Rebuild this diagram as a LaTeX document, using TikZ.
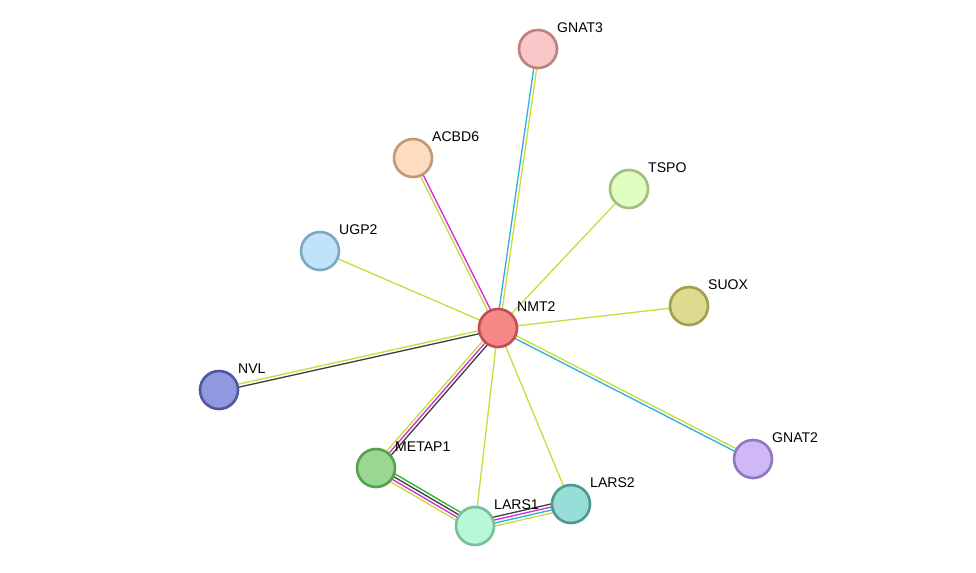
\documentclass[tikz,border=0pt]{standalone}
\usepackage{fontspec}
\setmainfont{Liberation Sans}
\usetikzlibrary{calc}
\definecolor{cyel}{HTML}{C8DC3C}
\definecolor{cmag}{HTML}{D030D0}
\definecolor{cdark}{HTML}{404040}
\definecolor{ccyan}{HTML}{30B0D8}
\definecolor{cgrn}{HTML}{30B030}
\tikzset{prot/.style={draw,circle,line width=1.5pt,minimum size=0.76cm,inner sep=0pt}}
\tikzset{lbl/.style={anchor=west,font=\fontsize{8}{9}\selectfont}}
\tikzset{edge/.style={line width=0.75pt}}
% one strand of a multi-coloured link, shifted sideways by #3
\newcommand{\strand}[4]{\draw [edge,#4] ($(#1)!#3!90:(#2)$) -- ($(#2)!#3!-90:(#1)$);}
\begin{document}
\begin{tikzpicture}[x=0.02cm,y=-0.02cm]
  \useasboundingbox (0,0) rectangle (976,572);

  % coordinates of the proteins
  \foreach \n/\x/\y in {GNAT3/538/49, ACBD6/413/158, TSPO/629/189, UGP2/320/251,
    SUOX/689/306, NMT2/498/328, NVL/219/390, GNAT2/753/459, METAP1/376/468,
    LARS2/571/504, LARS1/475/526}
  {
    \coordinate (c\n) at (\x,\y);
  }

  % edges
  \strand{cNMT2}{cGNAT3}{0.03cm}{ccyan}
  \strand{cNMT2}{cGNAT3}{-0.03cm}{cyel}
  \strand{cNMT2}{cACBD6}{-0.03cm}{cmag}
  \strand{cNMT2}{cACBD6}{0.03cm}{cyel}
  \strand{cNMT2}{cTSPO}{0cm}{cyel}
  \strand{cNMT2}{cUGP2}{0cm}{cyel}
  \strand{cNMT2}{cSUOX}{0cm}{cyel}
  \strand{cNMT2}{cNVL}{-0.03cm}{cyel}
  \strand{cNMT2}{cNVL}{0.03cm}{cdark}
  \strand{cNMT2}{cGNAT2}{-0.03cm}{ccyan}
  \strand{cNMT2}{cGNAT2}{0.03cm}{cyel}
  \strand{cNMT2}{cMETAP1}{0.06cm}{cdark}
  \strand{cNMT2}{cMETAP1}{0cm}{cmag}
  \strand{cNMT2}{cMETAP1}{-0.06cm}{cyel}
  \strand{cNMT2}{cLARS1}{0cm}{cyel}
  \strand{cNMT2}{cLARS2}{0cm}{cyel}
  \strand{cMETAP1}{cLARS1}{0.09cm}{cgrn}
  \strand{cMETAP1}{cLARS1}{0.03cm}{cdark}
  \strand{cMETAP1}{cLARS1}{-0.03cm}{cmag}
  \strand{cMETAP1}{cLARS1}{-0.09cm}{cyel}
  \strand{cLARS1}{cLARS2}{0.09cm}{cdark}
  \strand{cLARS1}{cLARS2}{0.03cm}{cmag}
  \strand{cLARS1}{cLARS2}{-0.03cm}{ccyan}
  \strand{cLARS1}{cLARS2}{-0.09cm}{cyel}

  % proteins
  \foreach \n/\f/\d in {GNAT3/F8C8C8/C08080, ACBD6/FDDCC0/C09A78, TSPO/E2FDC0/A0C080,
    UGP2/BFE3FA/80A8C0, SUOX/DEDA90/A0A050, NMT2/F88888/C05050, NVL/9098E0/5058A0,
    GNAT2/D0B8F8/9078C0, METAP1/98D890/58A050, LARS2/98DED8/509890, LARS1/B8F8D8/78C098}
  {
    \definecolor{fc}{HTML}{\f}
    \definecolor{dc}{HTML}{\d}
    \node [prot,fill=fc,draw=dc] (\n) at (c\n) {};
    \node [lbl] (l\n) at ($(c\n)+(13,-21)$) {\n};
  }
\end{tikzpicture}
\end{document}
